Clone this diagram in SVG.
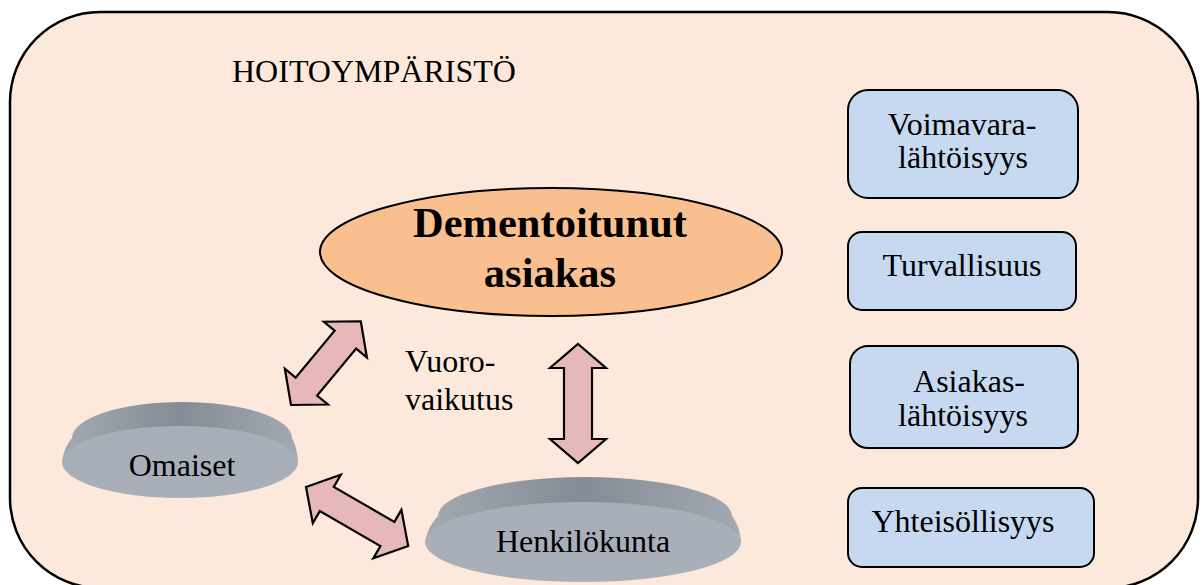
<svg xmlns="http://www.w3.org/2000/svg" width="1204" height="585" viewBox="0 0 1204 585">
<defs>
<style>
text{font-family:"Liberation Serif","Times New Roman",serif;fill:#000;font-size:32px}
.c{text-anchor:middle}
.box{fill:#C6D9F1;stroke:#000;stroke-width:2}
.arrow{fill:#E6B9B8;stroke:#000;stroke-width:2.2;stroke-linejoin:miter}
.face{fill:#A9AFB8}
</style>
<linearGradient id="band" x1="0" y1="0" x2="1" y2="0">
<stop offset="0" stop-color="#A3A9B1"/>
<stop offset="0.5" stop-color="#858C95"/>
<stop offset="1" stop-color="#A3A9B1"/>
</linearGradient>
</defs>
<rect width="1204" height="585" fill="#fff"/>
<g id="hoitoymparisto">
<rect x="10" y="12" width="1188" height="576" rx="90" ry="90" fill="#FCE9DB" stroke="#000" stroke-width="2.5"/>
<text x="232" y="82">HOITOYMPÄRISTÖ</text>
</g>
<g id="asiakas">
<ellipse cx="551" cy="252" rx="231" ry="64" fill="#F9BF8E" stroke="#000" stroke-width="2"/>
<text class="c" x="550" y="237" font-weight="bold" style="font-size:42.5px">Dementoitunut</text>
<text class="c" x="550" y="287" font-weight="bold" style="font-size:42.5px">asiakas</text>
</g>
<g id="omaiset">
<path d="M62,462 Q64,447 72,438 A110,36 0 0 1 292,438 Q297,447 298,462 Z" fill="url(#band)"/>
<ellipse class="face" cx="180" cy="462" rx="118" ry="36"/>
<text class="c" x="182" y="476">Omaiset</text>
</g>
<g id="henkilokunta">
<path d="M425,542 Q428,526 438,516 A147,39 0 0 1 732,516 Q740,526 741,542 Z" fill="url(#band)"/>
<ellipse class="face" cx="583" cy="542" rx="158" ry="40"/>
<text class="c" x="583" y="552">Henkilökunta</text>
</g>
<g id="vuorovaikutus">
<text x="405" y="372">Vuoro-</text>
<text x="405" y="410">vaikutus</text>
</g>
<g id="voimavara">
<rect class="box" x="848" y="90" width="230" height="108" rx="20"/>
<text class="c" x="962" y="135">Voimavara-</text>
<text class="c" x="963" y="168">lähtöisyys</text>
</g>
<g id="turvallisuus">
<rect class="box" x="848" y="232" width="228" height="78" rx="14"/>
<text class="c" x="962" y="276">Turvallisuus</text>
</g>
<g id="asiakaslahtoisyys">
<rect class="box" x="850" y="346" width="228" height="102" rx="18"/>
<text class="c" x="969" y="392">Asiakas-</text>
<text class="c" x="963" y="426">lähtöisyys</text>
</g>
<g id="yhteisollisyys">
<rect class="box" x="848" y="488" width="246" height="79" rx="14"/>
<text class="c" x="963" y="532">Yhteisöllisyys</text>
</g>
<g id="connectors">
<polygon class="arrow" transform="translate(291,405) rotate(-50.2)" points="0,0 24,-28 24,-14 85,-14 85,-28 109,0 85,28 85,14 24,14 24,28"/>
<polygon class="arrow" transform="translate(306,487) rotate(30)" points="0,0 24,-28 24,-14 94,-14 94,-28 118,0 94,28 94,14 24,14 24,28"/>
<polygon class="arrow" transform="translate(578,344) rotate(90)" points="0,0 24,-28 24,-14 95,-14 95,-28 119,0 95,28 95,14 24,14 24,28"/>
</g>
</svg>
